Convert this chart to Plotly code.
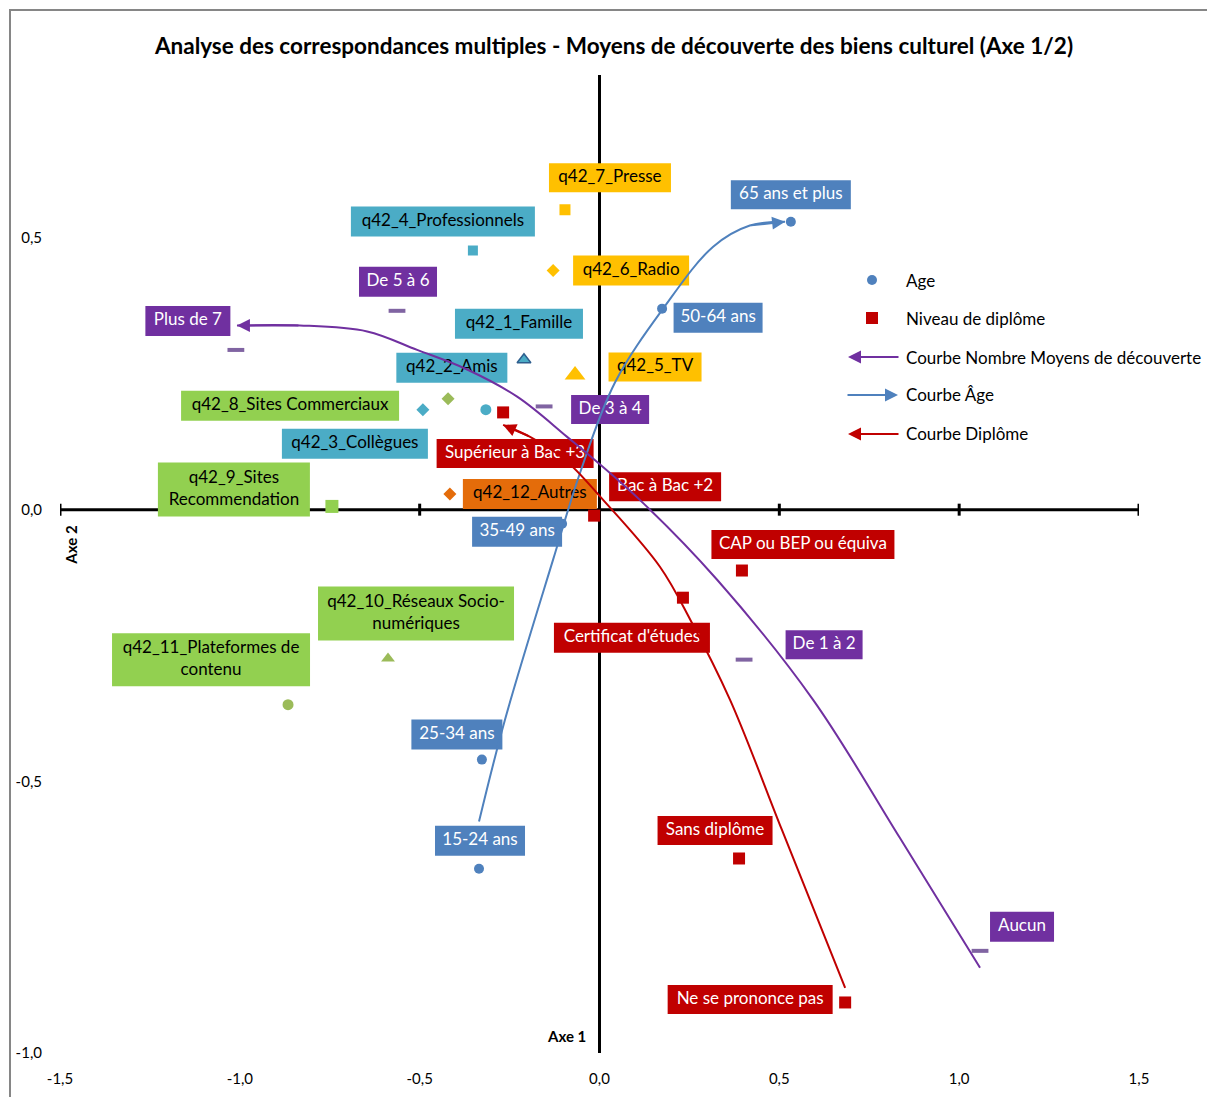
import plotly.graph_objects as go

# ---------------- data ----------------
age_labels = ["15-24 ans", "25-34 ans", "35-49 ans", "50-64 ans", "65 ans et plus"]
age_x = [-0.335, -0.327, -0.104, 0.174, 0.532]
age_y = [-0.661, -0.460, -0.026, 0.370, 0.530]

dipl_labels = ["Supérieur à Bac +3", "Bac à Bac +2", "CAP ou BEP ou équiva",
               "Certificat d'études", "Sans diplôme", "Ne se prononce pas"]
dipl_x = [-0.268, -0.015, 0.396, 0.232, 0.388, 0.683]
dipl_y = [0.179, -0.011, -0.112, -0.162, -0.642, -0.907]

nb_labels = ["Plus de 7", "De 5 à 6", "De 3 à 4", "De 1 à 2", "Aucun"]
nb_x = [-1.011, -0.563, -0.154, 0.402, 1.058]
nb_y = [0.294, 0.366, 0.190, -0.276, -0.812]

q42_labels = ["q42_1_Famille", "q42_2_Amis", "q42_3_Collègues", "q42_4_Professionnels",
              "q42_5_TV", "q42_6_Radio", "q42_7_Presse", "q42_8_Sites Commerciaux",
              "q42_9_Sites Recommendation", "q42_10_Réseaux Socio-numériques",
              "q42_11_Plateformes de contenu", "q42_12_Autres"]
q42_x = [-0.210, -0.316, -0.491, -0.352, -0.068, -0.129, -0.096, -0.421, -0.744, -0.588, -0.866, -0.416]
q42_y = [0.276, 0.184, 0.184, 0.477, 0.248, 0.440, 0.552, 0.204, 0.006, -0.274, -0.359, 0.029]

curve_age_x = [-0.335, -0.263, -0.129, -0.054, 0.043, 0.177, 0.316, 0.418, 0.516]
curve_age_y = [-0.574, -0.387, -0.092, 0.068, 0.234, 0.370, 0.484, 0.523, 0.530]

curve_nb_x = [1.058, 0.835, 0.594, 0.327, 0.112, -0.090, -0.229, -0.368, -0.507, -0.646, -0.833, -1.008]
curve_nb_y = [-0.843, -0.604, -0.350, -0.129, 0.018, 0.134, 0.208, 0.258, 0.294, 0.328, 0.339, 0.339]

curve_dipl_x = [0.683, 0.507, 0.363, 0.252, 0.168, 0.010, -0.096, -0.193, -0.268]
curve_dipl_y = [-0.880, -0.589, -0.350, -0.202, -0.105, 0.018, 0.092, 0.134, 0.156]

x_ticks = [-1.5, -1.0, -0.5, 0.0, 0.5, 1.0, 1.5]
x_ticktext = ["-1,5", "-1,0", "-0,5", "0,0", "0,5", "1,0", "1,5"]
y_ticks = [-1.0, -0.5, 0.0, 0.5]
y_ticktext = ["-1,0", "-0,5", "0,0", "0,5"]

legend_names = ["Age", "Niveau de diplôme", "Courbe Nombre Moyens de découverte",
                "Courbe Âge", "Courbe Diplôme"]

# ---------------- layout constants ----------------
OFF = 8  # page body margin in the browser
W, H = 1215 - OFF, 1097 - OFF
ML, MT = 60 - OFF, 75 - OFF
MR = W - (1139 - OFF)
MB = H - (1053 - OFF)
XR = [-1.5, 1.5]
YR = [-1.0, 0.8]
PW, PH = W - ML - MR, H - MT - MB
PPX = PW / (XR[1] - XR[0])
PPY = PH / (YR[1] - YR[0])
FONT = "Lato"

C_AGE = "#4F81BD"
C_DIPL = "#C00000"
C_NB = "#7030A0"
C_NB_MK = "#8064A2"
C_TEAL = "#4BACC6"
C_GOLD = "#FFC000"
C_GREEN = "#92D050"
C_OLIVE = "#9BBB59"
C_ORANGE = "#E46C0A"

# label styles: (dx px, dy px (down), width, height)
age_lbl = [(1, -28, 90, 30), (-25, -25, 91, 30), (-45, 8, 90, 30), (56, 9, 89, 30), (0, -27, 120, 29)]
dipl_lbl = [(12, 41, 157, 29), (71, -29, 112, 29), (61, -26, 183, 29), (-51, 40, 156, 30),
            (-24, -28, 115, 29), (-95, -3, 165, 29)]
nb_lbl = [(-48, -29, 85, 30), (1, -29, 78, 30), (66, 3, 78, 29), (80, -15, 77, 29), (42, -24, 64, 30)]
q42_lbl = [(-5, -36, 128, 30), (-34, -42, 111, 30), (-68, 34, 146, 30), (-30, -29, 184, 30),
           (80, -8, 93, 29), (78, 0, 116, 30), (45, -32, 122, 29), (-158, 7, 218, 30),
           (-98, -17, 152, 54), (28, -45, 196, 54), (-77, -45, 198, 53), (80, 0, 134, 30)]
q42_bg = [C_TEAL, C_TEAL, C_TEAL, C_TEAL, C_GOLD, C_GOLD, C_GOLD, C_GREEN, C_GREEN, C_GREEN, C_GREEN, C_ORANGE]
q42_text = ["q42_1_Famille", "q42_2_Amis", "q42_3_Collègues", "q42_4_Professionnels",
            "q42_5_TV", "q42_6_Radio", "q42_7_Presse", "q42_8_Sites Commerciaux",
            "q42_9_Sites<br>Recommendation", "q42_10_Réseaux Socio-<br>numériques",
            "q42_11_Plateformes de<br>contenu", "q42_12_Autres"]
q42_sym = ["triangle-up", "circle", "diamond", "square", "triangle-up", "diamond", "square",
           "diamond", "square", "triangle-up", "circle", "diamond"]
q42_col = [C_TEAL, C_TEAL, C_TEAL, C_TEAL, C_GOLD, C_GOLD, C_GOLD, C_OLIVE, C_GREEN, C_OLIVE, C_OLIVE, C_ORANGE]
q42_size = [12, 11, 10, 10, 18, 10, 11, 10, 13, 12, 11, 10]
q42_line = ["#2E5E8E"] + ["rgba(0,0,0,0)"] * 11

fig = go.Figure()
shapes = []
# axis lines (crossing at 0)
shapes.append(dict(type="line", xref="x", yref="y", x0=XR[0], x1=XR[1], y0=0, y1=0,
                   line=dict(color="black", width=3), layer="below"))
shapes.append(dict(type="line", xref="x", yref="y", x0=0, x1=0, y0=YR[0], y1=YR[1],
                   line=dict(color="black", width=3), layer="below"))
for t in x_ticks:
    shapes.append(dict(type="line", xref="x", yref="y", x0=t, x1=t, ysizemode="pixel", yanchor=0,
                       y0=-6, y1=6, line=dict(color="black", width=3), layer="below"))

text_x, text_y, text_s, text_c = [], [], [], []


def add_labels(xs, ys, texts, specs, bgs, tcols):
    for x, y, t, sp, bg, tc in zip(xs, ys, texts, specs, bgs, tcols):
        dx, dy, w, h = sp
        shapes.append(dict(type="rect", xref="x", yref="y", xsizemode="pixel", ysizemode="pixel",
                           xanchor=x, yanchor=y, x0=dx - w / 2, x1=dx + w / 2,
                           y0=-dy - h / 2, y1=-dy + h / 2, fillcolor=bg, line=dict(width=0),
                           layer="below"))
        text_x.append(x + dx / PPX)
        text_y.append(y - dy / PPY)
        text_s.append(t)
        text_c.append(tc)


add_labels(age_x, age_y, age_labels, age_lbl, [C_AGE] * 5, ["white"] * 5)
add_labels(dipl_x, dipl_y, dipl_labels, dipl_lbl, [C_DIPL] * 6, ["white"] * 6)
add_labels(nb_x, nb_y, nb_labels, nb_lbl, [C_NB] * 5, ["white"] * 5)
add_labels(q42_x, q42_y, q42_text, q42_lbl, q42_bg, ["black"] * 12)

# markers
fig.add_trace(go.Scatter(x=q42_x, y=q42_y, mode="markers", text=q42_labels, showlegend=False,
                         marker=dict(symbol=q42_sym, color=q42_col, size=q42_size, opacity=1,
                                     line=dict(color=q42_line, width=1.5))))
fig.add_trace(go.Scatter(x=nb_x, y=nb_y, mode="markers", text=nb_labels, showlegend=False,
                         marker=dict(symbol="line-ew", size=12, line=dict(color=C_NB_MK, width=4))))
fig.add_trace(go.Scatter(x=age_x, y=age_y, mode="markers", text=age_labels, name=legend_names[0],
                         showlegend=False, marker=dict(symbol="circle", color=C_AGE, size=10, opacity=1)))
fig.add_trace(go.Scatter(x=dipl_x, y=dipl_y, mode="markers", text=dipl_labels, name=legend_names[1],
                         showlegend=False, marker=dict(symbol="square", color=C_DIPL, size=12, opacity=1)))

# label texts
fig.add_trace(go.Scatter(x=text_x, y=text_y, mode="text", text=text_s, showlegend=False,
                         hoverinfo="skip", textposition="middle center",
                         textfont=dict(family=FONT, size=17, color=text_c)))

# curves
for cx, cy, col, nm in [(curve_age_x, curve_age_y, C_AGE, legend_names[3]),
                        (curve_nb_x, curve_nb_y, C_NB, legend_names[2]),
                        (curve_dipl_x, curve_dipl_y, C_DIPL, legend_names[4])]:
    fig.add_trace(go.Scatter(x=cx, y=cy, mode="lines", name=nm, showlegend=False,
                             line=dict(color=col, width=2, shape="spline", smoothing=1.0)))

annotations = []
for cx, cy, col in [(curve_age_x, curve_age_y, C_AGE), (curve_nb_x, curve_nb_y, C_NB),
                    (curve_dipl_x, curve_dipl_y, C_DIPL)]:
    annotations.append(dict(x=cx[-1], y=cy[-1], ax=cx[-2], ay=cy[-2], xref="x", yref="y",
                            axref="x", ayref="y", text="", showarrow=True, arrowhead=2,
                            arrowsize=1.3, arrowwidth=2, arrowcolor=col))

# axis titles
annotations.append(dict(x=0, y=YR[0], xref="x", yref="y", text="<b>Axe 1</b>", showarrow=False,
                        xanchor="right", yanchor="bottom", xshift=-12, yshift=6,
                        font=dict(family=FONT, size=15, color="black")))
annotations.append(dict(x=XR[0], y=0, xref="x", yref="y", text="<b>Axe 2</b>", showarrow=False,
                        textangle=-90, xanchor="center", yanchor="middle", xshift=11, yshift=-35,
                        font=dict(family=FONT, size=15, color="black")))


# manual legend (positions given in reference-page pixels)
def px2paper(px, py):
    return (px - OFF - ML) / PW, (H - MB - (py - OFF)) / PH


leg_rows = [280, 318, 357, 395, 434]
for name, py in zip(legend_names, leg_rows):
    lx, ly = px2paper(904, py)
    annotations.append(dict(x=lx, y=ly, xref="paper", yref="paper", text=name, showarrow=False,
                            xanchor="left", yanchor="middle",
                            font=dict(family=FONT, size=17, color="black")))
mx, my = px2paper(872, leg_rows[0])
shapes.append(dict(type="circle", xref="paper", yref="paper", xsizemode="pixel", ysizemode="pixel",
                   xanchor=mx, yanchor=my, x0=-5, x1=5, y0=-5, y1=5, fillcolor=C_AGE,
                   line=dict(width=0), layer="above"))
mx, my = px2paper(872, leg_rows[1])
shapes.append(dict(type="rect", xref="paper", yref="paper", xsizemode="pixel", ysizemode="pixel",
                   xanchor=mx, yanchor=my, x0=-6, x1=6, y0=-6, y1=6, fillcolor=C_DIPL,
                   line=dict(width=0), layer="above"))
for (hx, tx), py, col in zip([(848, 900), (898, 846), (848, 900)], leg_rows[2:], [C_NB, C_AGE, C_DIPL]):
    ax_, ay_ = px2paper(hx, py)
    annotations.append(dict(x=ax_, y=ay_, xref="paper", yref="paper", ax=tx - hx, ay=0, text="",
                            showarrow=True, arrowhead=2, arrowsize=1.3, arrowwidth=2, arrowcolor=col))

# chart border
bx0, by1 = px2paper(10, 10)
bx1, by0 = px2paper(1240, 1120)
shapes.append(dict(type="rect", xref="paper", yref="paper", x0=bx0, x1=bx1, y0=by0, y1=by1,
                   line=dict(color="#868686", width=2), fillcolor="rgba(0,0,0,0)", layer="above"))

fig.update_layout(
    width=W, height=H,
    margin=dict(l=ML, r=MR, t=MT, b=MB, autoexpand=False),
    paper_bgcolor="white", plot_bgcolor="white",
    title=dict(text="<b>Analyse des correspondances multiples - Moyens de découverte des biens culturel (Axe 1/2)</b>",
               x=(614 - OFF) / W, xanchor="center", y=1 - (46 - OFF) / H, yanchor="middle",
               font=dict(family=FONT, size=22.5, color="black")),
    xaxis=dict(range=XR, showgrid=False, zeroline=False, showline=False, tickvals=x_ticks,
               ticktext=x_ticktext, ticks="outside", ticklen=12, tickcolor="rgba(0,0,0,0)",
               automargin=False, tickfont=dict(family=FONT, size=15, color="black")),
    yaxis=dict(range=YR, showgrid=False, zeroline=False, showline=False, tickvals=y_ticks,
               ticktext=y_ticktext, ticks="outside", ticklen=14, tickcolor="rgba(0,0,0,0)",
               automargin=False, tickfont=dict(family=FONT, size=15, color="black")),
    shapes=shapes,
    annotations=annotations,
    showlegend=False,
)

fig.write_html("out.html")
